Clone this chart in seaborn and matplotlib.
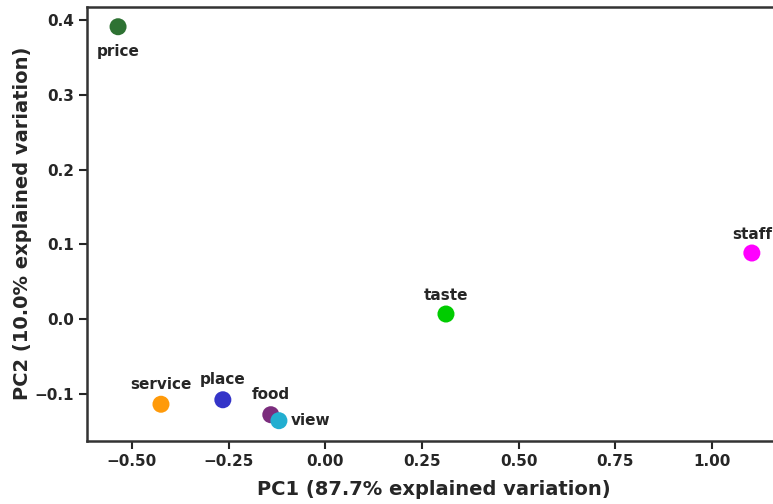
import matplotlib
matplotlib.use("Agg")
import matplotlib.pyplot as plt
import seaborn as sns
import pandas as pd

# PCA loadings of the review aspects
aspects = ["price", "service", "place", "food", "view", "taste", "staff"]
pc1 = [-0.536, -0.425, -0.265, -0.141, -0.120, 0.312, 1.103]
pc2 = [0.391, -0.114, -0.108, -0.128, -0.136, 0.0067, 0.0883]
colors = ["#2e7233", "#ff9a0a", "#3434c8", "#7b2d7d", "#22aed0", "#00cc00", "#ff00ff"]

pc1_label = "PC1 (87.7% explained variation)"
pc2_label = "PC2 (10.0% explained variation)"
x_ticks = [-0.50, -0.25, 0.00, 0.25, 0.50, 0.75, 1.00]
y_ticks = [-0.1, 0.0, 0.1, 0.2, 0.3, 0.4]

# label placement in pixels relative to each point
label_offsets = {
    "price": (0, -25, "center"),
    "service": (0, 20, "center"),
    "place": (0, 20, "center"),
    "food": (0, 20, "center"),
    "view": (12, 0, "left"),
    "taste": (0, 19, "center"),
    "staff": (0, 19, "center"),
}

df = pd.DataFrame({"aspect": aspects, "PC1": pc1, "PC2": pc2})

sns.set_theme(style="ticks")
plt.rcParams["font.family"] = ["DejaVu Sans"]
plt.rcParams["font.weight"] = "bold"

fig = plt.figure(figsize=(7.73, 5.04), dpi=100)
# the axes run slightly past the right edge of the canvas
ax = fig.add_axes([87 / 773, 63.5 / 504, 693 / 773, 433.5 / 504])

sns.scatterplot(data=df, x="PC1", y="PC2", hue="aspect",
                palette=dict(zip(aspects, colors)), s=150, linewidth=0,
                legend=False, ax=ax, zorder=3)

for name, x, y in zip(aspects, pc1, pc2):
    dx, dy, ha = label_offsets[name]
    ax.annotate(name, (x, y), xytext=(dx, dy), textcoords="offset pixels",
                ha=ha, va="center", fontsize=11, fontweight="bold",
                color="#262626")

ax.set_xlim(-0.6163, 1.1758)
ax.set_ylim(-0.1625, 0.4174)
ax.set_xticks(x_ticks)
ax.set_yticks(y_ticks)
ax.set_xticklabels([f"{t:.2f}".replace("-", "\u2212") for t in x_ticks])
ax.set_yticklabels([f"{t:.1f}".replace("-", "\u2212") for t in y_ticks])
ax.tick_params(labelsize=11, width=1.5, length=6, color="#262626")
for lbl in ax.get_xticklabels() + ax.get_yticklabels():
    lbl.set_fontweight("bold")

for side in ["left", "bottom", "top", "right"]:
    ax.spines[side].set_visible(True)
    ax.spines[side].set_linewidth(1.8)
    ax.spines[side].set_color("#333333")

ax.set_xlabel(pc1_label, fontsize=14, fontweight="bold", labelpad=8)
ax.set_ylabel(pc2_label, fontsize=14, fontweight="bold", labelpad=2)

fig.savefig("out.png", dpi=100)
